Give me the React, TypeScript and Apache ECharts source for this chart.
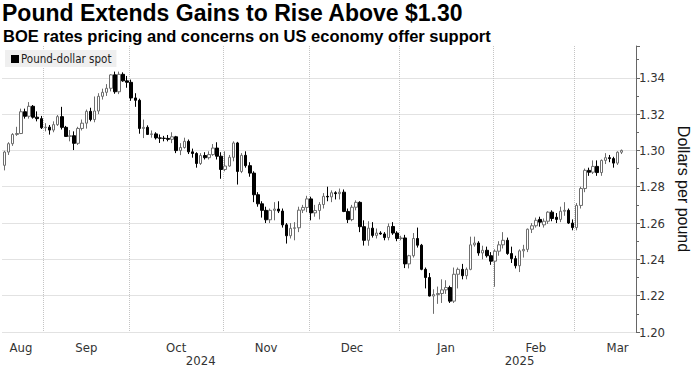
import React, { useEffect, useRef } from 'react';
import * as echarts from 'echarts';

// Trading days shown: weekdays from 2024-08-19; axis runs a few days past the last candle
const firstDate = '2024-08-19';
const axisLastDate = '2025-03-21';

// Daily OHLC, Aug 19 2024 .. Mar 18 2025 (152 sessions)
const openPx = [
  1.2918, 1.2991, 1.3037, 1.3088, 1.3093, 1.3213, 1.3188, 1.3243, 1.3183, 1.3175,
  1.3125, 1.3128, 1.3112, 1.3142, 1.3186, 1.3127, 1.3077, 1.3081, 1.3039, 1.3121, 1.3150, 1.3215, 1.3170, 1.3217, 1.3298, 1.3320, 1.3342, 1.3416, 1.3323, 1.3419, 1.3383,
  1.3375, 1.3289, 1.3276, 1.3121, 1.3127, 1.3088, 1.3091, 1.3069, 1.3067, 1.3066, 1.3061, 1.3075, 1.2999, 1.3016, 1.3050, 1.2992, 1.2983, 1.2928, 1.2972, 1.2960, 1.2977, 1.3013, 1.2968,
  1.2895, 1.2914, 1.2962, 1.3041, 1.2884, 1.2973, 1.2916, 1.2875, 1.2756, 1.2706, 1.2670, 1.2618, 1.2670, 1.2677, 1.2666, 1.2590, 1.2530, 1.2571, 1.2574, 1.2671, 1.2686,
  1.2733, 1.2656, 1.2669, 1.2702, 1.2747, 1.2744, 1.2767, 1.2762, 1.2770, 1.2664, 1.2619, 1.2687, 1.2714, 1.2580, 1.2505, 1.2572, 1.2532, 1.2545, 1.2540, 1.2520, 1.2581, 1.2545,
  1.2515, 1.2518, 1.2375, 1.2420, 1.2515, 1.2478, 1.2345, 1.2300, 1.2198, 1.2206, 1.2212, 1.2232, 1.2245, 1.2170, 1.2318, 1.2345, 1.2310, 1.2345, 1.2480, 1.2490, 1.2435, 1.2450, 1.2420,
  1.2390, 1.2445, 1.2480, 1.2505, 1.2432, 1.2404, 1.2365, 1.2447, 1.2455, 1.2566, 1.2585, 1.2620, 1.2590, 1.2610, 1.2660, 1.2632, 1.2620, 1.2665, 1.2670, 1.2600,
  1.2575, 1.2697, 1.2790, 1.2890, 1.2880, 1.2912, 1.2878, 1.2945, 1.2960, 1.2955, 1.2930, 1.2990,
];
const highPx = [
  1.2998, 1.3045, 1.3095, 1.3130, 1.3230, 1.3230, 1.3266, 1.3250, 1.3215, 1.3190,
  1.3150, 1.3140, 1.3160, 1.3195, 1.3240, 1.3135, 1.3112, 1.3105, 1.3130, 1.3170, 1.3225, 1.3235, 1.3297, 1.3315, 1.3340, 1.3365, 1.3420, 1.3434, 1.3434, 1.3430, 1.3410,
  1.3390, 1.3315, 1.3285, 1.3170, 1.3138, 1.3110, 1.3100, 1.3088, 1.3080, 1.3085, 1.3100, 1.3080, 1.3040, 1.3070, 1.3060, 1.3010, 1.2990, 1.2985, 1.2990, 1.2995, 1.3035, 1.3045, 1.2990,
  1.2995, 1.2975, 1.3050, 1.3047, 1.2985, 1.2995, 1.2935, 1.2885, 1.2770, 1.2720, 1.2690, 1.2680, 1.2715, 1.2720, 1.2680, 1.2600, 1.2600, 1.2605, 1.2690, 1.2700, 1.2750,
  1.2745, 1.2700, 1.2715, 1.2765, 1.2800, 1.2780, 1.2775, 1.2790, 1.2785, 1.2680, 1.2700, 1.2725, 1.2720, 1.2615, 1.2610, 1.2605, 1.2570, 1.2555, 1.2550, 1.2598, 1.2605, 1.2555,
  1.2530, 1.2535, 1.2425, 1.2545, 1.2575, 1.2485, 1.2355, 1.2325, 1.2235, 1.2250, 1.2290, 1.2285, 1.2255, 1.2355, 1.2355, 1.2375, 1.2355, 1.2525, 1.2525, 1.2500, 1.2475, 1.2470, 1.2440,
  1.2455, 1.2500, 1.2550, 1.2520, 1.2470, 1.2420, 1.2455, 1.2480, 1.2570, 1.2600, 1.2630, 1.2635, 1.2625, 1.2665, 1.2670, 1.2655, 1.2690, 1.2715, 1.2680, 1.2620,
  1.2710, 1.2800, 1.2900, 1.2905, 1.2945, 1.2945, 1.2950, 1.2985, 1.2975, 1.2965, 1.2995, 1.3005,
];
const lowPx = [
  1.2890, 1.2975, 1.3025, 1.3080, 1.3090, 1.3175, 1.3175, 1.3175, 1.3160, 1.3118,
  1.3105, 1.3087, 1.3100, 1.3135, 1.3115, 1.3075, 1.3050, 1.3002, 1.3030, 1.3110, 1.3120, 1.3160, 1.3155, 1.3200, 1.3280, 1.3300, 1.3325, 1.3312, 1.3310, 1.3378, 1.3345,
  1.3273, 1.3240, 1.3092, 1.3068, 1.3085, 1.3070, 1.3060, 1.3041, 1.3050, 1.3050, 1.3040, 1.2985, 1.2974, 1.3010, 1.2980, 1.2960, 1.2905, 1.2920, 1.2950, 1.2950, 1.2970, 1.2950, 1.2844,
  1.2885, 1.2910, 1.2940, 1.2812, 1.2875, 1.2905, 1.2855, 1.2715, 1.2690, 1.2630, 1.2600, 1.2600, 1.2615, 1.2655, 1.2575, 1.2487, 1.2515, 1.2505, 1.2550, 1.2655, 1.2660,
  1.2615, 1.2635, 1.2620, 1.2680, 1.2720, 1.2715, 1.2730, 1.2730, 1.2660, 1.2600, 1.2610, 1.2670, 1.2550, 1.2476, 1.2475, 1.2520, 1.2515, 1.2535, 1.2505, 1.2505, 1.2535, 1.2500,
  1.2505, 1.2352, 1.2350, 1.2410, 1.2465, 1.2340, 1.2240, 1.2196, 1.2100, 1.2155, 1.2160, 1.2210, 1.2160, 1.2160, 1.2240, 1.2290, 1.2290, 1.2340, 1.2470, 1.2420, 1.2400, 1.2410, 1.2370,
  1.2249, 1.2420, 1.2460, 1.2425, 1.2380, 1.2350, 1.2330, 1.2410, 1.2440, 1.2545, 1.2575, 1.2580, 1.2575, 1.2595, 1.2610, 1.2600, 1.2605, 1.2640, 1.2595, 1.2560,
  1.2560, 1.2680, 1.2770, 1.2860, 1.2870, 1.2860, 1.2860, 1.2925, 1.2935, 1.2905, 1.2920, 1.2980,
];
const closePx = [
  1.2991, 1.3037, 1.3088, 1.3093, 1.3213, 1.3188, 1.3243, 1.3183, 1.3175, 1.3125,
  1.3128, 1.3112, 1.3142, 1.3186, 1.3127, 1.3077, 1.3081, 1.3039, 1.3121, 1.3150, 1.3215, 1.3170, 1.3217, 1.3298, 1.3320, 1.3342, 1.3416, 1.3323, 1.3419, 1.3383, 1.3375,
  1.3289, 1.3276, 1.3121, 1.3127, 1.3088, 1.3091, 1.3069, 1.3067, 1.3066, 1.3061, 1.3075, 1.2999, 1.3016, 1.3050, 1.2992, 1.2983, 1.2928, 1.2972, 1.2960, 1.2977, 1.3013, 1.2968, 1.2895,
  1.2914, 1.2962, 1.3041, 1.2884, 1.2973, 1.2916, 1.2875, 1.2756, 1.2706, 1.2670, 1.2618, 1.2670, 1.2677, 1.2666, 1.2590, 1.2530, 1.2571, 1.2574, 1.2671, 1.2686, 1.2733,
  1.2656, 1.2669, 1.2702, 1.2747, 1.2744, 1.2767, 1.2762, 1.2770, 1.2664, 1.2619, 1.2687, 1.2714, 1.2580, 1.2505, 1.2572, 1.2532, 1.2545, 1.2540, 1.2520, 1.2581, 1.2545, 1.2515,
  1.2518, 1.2375, 1.2420, 1.2515, 1.2478, 1.2345, 1.2300, 1.2198, 1.2206, 1.2212, 1.2232, 1.2245, 1.2170, 1.2318, 1.2345, 1.2310, 1.2345, 1.2480, 1.2490, 1.2435, 1.2450, 1.2420, 1.2390,
  1.2445, 1.2480, 1.2505, 1.2432, 1.2404, 1.2365, 1.2447, 1.2455, 1.2566, 1.2585, 1.2615, 1.2605, 1.2610, 1.2660, 1.2625, 1.2620, 1.2665, 1.2670, 1.2600, 1.2575,
  1.2697, 1.2790, 1.2890, 1.2880, 1.2912, 1.2878, 1.2945, 1.2960, 1.2955, 1.2930, 1.2990, 1.3000,
];

// X tick labels (placed mid-month) and year labels
const monthTickDates = ['2024-08-23', '2024-09-16', '2024-10-16', '2024-11-15', '2024-12-16', '2025-01-16', '2025-02-17', '2025-03-17'];
const monthTickLabels = ['Aug', 'Sep', 'Oct', 'Nov', 'Dec', 'Jan', 'Feb', 'Mar'];
const yearTickDates = ['2024-10-24', '2025-02-11'];
const yearTickLabels = ['2024', '2025'];

const titleText = 'Pound Extends Gains to Rise Above $1.30';
const subtitleText = 'BOE rates pricing and concerns on US economy offer support';
const seriesName = 'Pound-dollar spot';
const yAxisName = 'Dollars per pound';

function weekdays(start: string, end: string): string[] {
  const out: string[] = [];
  const d = new Date(start + 'T00:00:00Z');
  const e = new Date(end + 'T00:00:00Z');
  while (d.getTime() <= e.getTime()) {
    const wd = d.getUTCDay();
    if (wd !== 0 && wd !== 6) out.push(d.toISOString().slice(0, 10));
    d.setUTCDate(d.getUTCDate() + 1);
  }
  return out;
}

const NARROW = '"Liberation Sans Narrow", "DejaVu Sans Condensed", "Roboto Condensed", sans-serif';
const BOLD = '"Liberation Sans", Arial, sans-serif';

export default function App() {
  const ref = useRef<HTMLDivElement>(null);
  useEffect(() => {
    if (!ref.current) return;
    const chart = echarts.init(ref.current, undefined, { renderer: 'svg' });
    const dates = weekdays(firstDate, axisLastDate);
    const monthMap: Record<string, string> = {};
    monthTickDates.forEach((d, i) => (monthMap[d] = monthTickLabels[i]));
    const yearMap: Record<string, string> = {};
    yearTickDates.forEach((d, i) => (yearMap[d] = yearTickLabels[i]));
    const monthStart = new Set<number>();
    dates.forEach((d, i) => {
      if (i > 0 && d.slice(0, 7) !== dates[i - 1].slice(0, 7)) monthStart.add(i);
    });
    const candles = openPx.map((o, i) => [o, closePx[i], lowPx[i], highPx[i]]);

    chart.setOption({
      animation: false,
      backgroundColor: '#ffffff',
      title: [
        {
          text: titleText,
          left: 2,
          top: 1,
          padding: 0,
          textStyle: { fontFamily: BOLD, fontWeight: 'bold', fontSize: 23, color: '#000' },
        },
        {
          text: subtitleText,
          left: 3,
          top: 27,
          padding: 0,
          textStyle: { fontFamily: BOLD, fontWeight: 'bold', fontSize: 16.5, color: '#000' },
        },
      ],
      legend: {
        left: 5,
        top: 50,
        padding: [3, 5, 2, 6],
        backgroundColor: '#efefef',
        icon: 'rect',
        itemWidth: 6,
        itemHeight: 6,
        itemGap: 4,
        selectedMode: false,
        textStyle: { fontFamily: NARROW, fontSize: 11.5, color: '#222', padding: [0, 0, 0, -2] },
        data: [{ name: seriesName, itemStyle: { color: '#000', borderColor: '#000' } }],
      },
      grid: {
        left: 2.5,
        right: 55,
        top: 46,
        bottom: 38,
        containLabel: false,
        outerBoundsMode: 'none',
      },
      xAxis: [
        {
          type: 'category',
          data: dates,
          boundaryGap: true,
          axisLine: { show: false },
          axisTick: { show: false },
          axisLabel: {
            interval: (i: number, v: string) => monthMap[v] !== undefined,
            formatter: (v: string) => monthMap[v] || '',
            fontFamily: NARROW,
            fontSize: 13,
            color: '#333',
            margin: 9,
          },
          splitLine: {
            show: true,
            interval: (i: number) => monthStart.has(i),
            lineStyle: { type: 'dotted', color: '#c4c4c4', width: 1 },
          },
        },
        {
          type: 'category',
          data: dates,
          position: 'bottom',
          offset: 13,
          boundaryGap: true,
          axisLine: { show: false },
          axisTick: { show: false },
          splitLine: { show: false },
          axisLabel: {
            interval: (i: number, v: string) => yearMap[v] !== undefined,
            formatter: (v: string) => yearMap[v] || '',
            fontFamily: NARROW,
            fontSize: 13,
            color: '#333',
            margin: 9,
          },
        },
      ],
      yAxis: {
        type: 'value',
        position: 'right',
        min: 1.2,
        max: 1.3575,
        interval: 0.02,
        axisLine: { show: true, lineStyle: { color: '#666', width: 1 } },
        axisTick: { show: true, length: 4, lineStyle: { color: '#666' } },
        minorTick: { show: true, splitNumber: 2, length: 3, lineStyle: { color: '#666' } },
        axisLabel: {
          fontFamily: NARROW,
          fontSize: 13,
          color: '#333',
          margin: 3,
          formatter: (v: number) =>
            Math.abs(v * 50 - Math.round(v * 50)) < 1e-6 ? v.toFixed(2) : '',
        },
        splitLine: {
          show: true,
          showMaxLine: false,
          lineStyle: { type: 'dotted', color: '#c4c4c4', width: 1 },
        },
        name: yAxisName,
        nameLocation: 'middle',
        nameRotate: -90,
        nameGap: 32,
        nameTextStyle: { fontFamily: '"Liberation Sans", Arial, sans-serif', fontSize: 16, color: '#111' },
      },
      series: [
        {
          name: seriesName,
          type: 'candlestick',
          xAxisIndex: 0,
          data: candles,
          barWidth: 3,
          itemStyle: {
            color: '#ffffff',
            color0: '#000000',
            borderColor: '#6e6e6e',
            borderColor0: '#000000',
            borderWidth: 1,
          },
        },
      ],
    });
    return () => chart.dispose();
  }, []);
  return (
    <div
      ref={ref}
      style={{ position: 'fixed', left: 0, top: 0, width: 691, height: 370, background: '#fff' }}
    />
  );
}
